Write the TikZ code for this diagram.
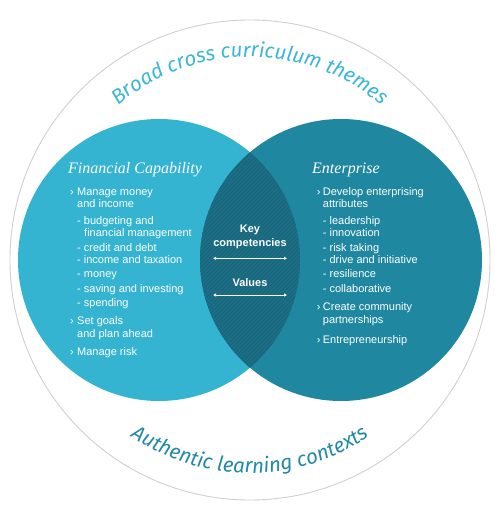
\documentclass[tikz,border=0pt]{standalone}
\usepackage{fontspec}
\setmainfont{Liberation Sans}
\newfontfamily\headfont{Liberation Serif}
\newfontfamily\arcfont{Fira Sans}
\usetikzlibrary{arrows.meta,decorations.text}
\definecolor{fincol}{HTML}{35B4D2}
\definecolor{entcol}{HTML}{1F87A0}
\definecolor{midcol}{HTML}{1C6F86}
\definecolor{hatchcol}{HTML}{19657A}
\definecolor{topcol}{HTML}{3BB6D6}
\definecolor{botcol}{HTML}{2189A5}
\definecolor{ringcol}{HTML}{D0D0D0}

\begin{document}
\begin{tikzpicture}[
  x=1pt,y=1pt,
  every node/.style={font=\fontsize{11}{13}\selectfont,text=white,inner sep=0pt},
  item/.style={anchor=base west},
  head/.style={anchor=base west,font=\headfont\itshape\fontsize{16}{18}\selectfont},
  mid/.style={anchor=base,font=\bfseries\fontsize{11}{13}\selectfont},
  arr/.style={{Latex[length=3pt,width=3.5pt]}-{Latex[length=3pt,width=3.5pt]},white,line width=0.9pt},
  ring/.style={draw=ringcol,line width=0.9pt},
  hatch/.style={draw=hatchcol,line width=0.8pt}
]
\useasboundingbox (-250,-256) rectangle (250,260);
\draw[ring] (0,0) circle[radius=240];
% the two circles and their overlap
\fill[fincol] (-91,0) circle[radius=141];
\fill[entcol] (91,0) circle[radius=141];
\begin{scope}
  \clip (-91,0) circle[radius=141];
  \clip (91,0) circle[radius=141];
  \fill[midcol] (-60,-150) rectangle (60,150);
  \foreach \s in {-300,-296,...,150}
    \draw[hatch] (\s,-150) -- ++(300,300);
\end{scope}
% curved captions
\path[decorate,decoration={text along path,text align=center,
  text={|\arcfont\itshape\fontsize{20.5}{22}\selectfont\color{topcol}|Broad cross curriculum themes}}]
  (132:203) arc[start angle=132,end angle=48,radius=203];
\path[decorate,decoration={text along path,text align=center,
  text={|\arcfont\itshape\fontsize{20.5}{22}\selectfont\color{botcol}|Authentic learning contexts}}]
  (233:213) arc[start angle=233,end angle=307,radius=213];
% Financial Capability
\node[head] (fin) at (-182,86) {Financial Capability};
\foreach \y in {64,-64,-95}
  \node[item] (fb\y) at (-180,\y) {›};
\foreach \y/\x/\t [count=\i] in {64/0/Manage money,52/0/and income,
    35/0/- budgeting and,23/7/financial management,8/0/- credit and debt,
    -4/0/- income and taxation,-18/0/- money,-32/0/- saving and investing,
    -46/0/- spending,-64/0/Set goals,-77/0/and plan ahead,-95/0/Manage risk}
  \node[item] (fc\i) at (-173+\x,\y) {\t};
% Enterprise
\node[head] (ent) at (62,86) {Enterprise};
\foreach \y in {64,-50,-83}
  \node[item] (eb\y) at (66.7,\y) {›};
\foreach \y/\t [count=\i] in {64/Develop enterprising,52/attributes,
    35/- leadership,23/- innovation,8/- risk taking,-4/- drive and initiative,
    -18/- resilience,-32/- collaborative,-50/Create community,
    -63/partnerships,-83/Entrepreneurship}
  \node[item] (ec\i) at (72.7,\y) {\t};
% middle
\node[mid] (key) at (0,27) {Key};
\node[mid] (comp) at (0,13.3) {competencies};
\coordinate (k1) at (-37,1.7);
\coordinate (k2) at (37,1.7);
\draw[arr] (k1) -- (k2);
\node[mid] (val) at (0,-27) {Values};
\coordinate (v1) at (-37,-35);
\coordinate (v2) at (37,-35);
\draw[arr] (v1) -- (v2);
\end{tikzpicture}
\end{document}
